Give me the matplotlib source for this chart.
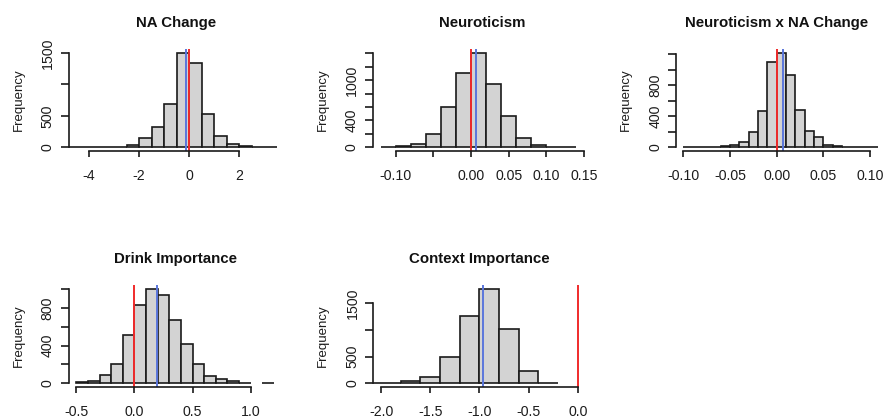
import numpy as np
import matplotlib.pyplot as plt

plt.rcParams['font.family'] = ['Liberation Sans', 'DejaVu Sans']

# ---- data ----
titles = ['NA Change', 'Neuroticism', 'Neuroticism x NA Change',
          'Drink Importance', 'Context Importance']

na_breaks = np.arange(-5.0, 3.75, 0.5)
na_counts = [1, 1, 1, 2, 12, 43, 144, 330, 691, 1500, 1346, 527, 181, 53, 15, 2, 1]
na_est = -0.13

neu_breaks = np.arange(-0.12, 0.145, 0.02)
neu_counts = [2, 20, 55, 204, 606, 1103, 1407, 939, 472, 139, 30, 3, 1]
neu_est = 0.0066

int_breaks = np.arange(-0.10, 0.115, 0.01)
int_counts = [1, 1, 1, 2, 17, 35, 64, 193, 467, 1103, 1215, 927, 485, 215, 129,
              30, 12, 10, 2, 1, 1]
int_est = 0.0064

drink_breaks = np.arange(-0.5, 1.25, 0.1)
drink_counts = [10, 28, 92, 203, 512, 836, 1003, 932, 672, 413, 203, 82, 46, 21, 7, 0, 6]
drink_est = 0.19

ctx_breaks = np.arange(-2.2, -0.15, 0.2)
ctx_counts = [8, 12, 50, 125, 488, 1268, 1772, 1013, 236, 12]
ctx_est = -0.96

# x ranges (before R's 4% extension), ticks and labels
xlims = [(-4.5, 3.5), (-0.12, 0.15), (-0.1, 0.1), (-0.5, 1.2), (-2.0, 0.0)]
xticks = [[-4, -2, 0, 2],
          [-0.10, -0.05, 0.0, 0.05, 0.10, 0.15],
          [-0.10, -0.05, 0.0, 0.05, 0.10],
          [-0.5, 0.0, 0.5, 1.0],
          [-2.0, -1.5, -1.0, -0.5, 0.0]]
xlabels = [['-4', '-2', '0', '2'],
           ['-0.10', '', '0.00', '0.05', '0.10', '0.15'],
           ['-0.10', '-0.05', '0.00', '0.05', '0.10'],
           ['-0.5', '0.0', '0.5', '1.0'],
           ['-2.0', '-1.5', '-1.0', '-0.5', '0.0']]
yticks = [[0, 500, 1000, 1500],
          [0, 200, 400, 600, 800, 1000, 1200, 1400],
          [0, 200, 400, 600, 800, 1000, 1200],
          [0, 200, 400, 600, 800, 1000],
          [0, 500, 1000, 1500]]
ylabels = [['0', '500', '', '1500'],
           ['0', '', '400', '', '', '1000', '', ''],
           ['0', '', '400', '', '800', '', ''],
           ['0', '', '400', '', '800', ''],
           ['0', '500', '', '1500']]

# plot regions in pixels: left, top, right, bottom
W, H = 885, 418
rects = [(68.5, 49.1, 284.5, 151.1),
         (372.5, 49.1, 592.1, 151.1),
         (675.9, 49.1, 877.5, 151.1),
         (68.6, 285.0, 281.6, 387.1),
         (373.2, 285.0, 585.6, 387.1)]

RED = '#f02b2b'
BLUE = '#5a76dc'
INK = '#1a1a1a'

fig = plt.figure(figsize=(W / 100, H / 100), dpi=100)

panels = [(na_breaks, na_counts, na_est),
          (neu_breaks, neu_counts, neu_est),
          (int_breaks, int_counts, int_est),
          (drink_breaks, drink_counts, drink_est),
          (ctx_breaks, ctx_counts, ctx_est)]

for i, (breaks, counts, est) in enumerate(panels):
    l, t, r, b = rects[i]
    ax = fig.add_axes([l / W, 1 - b / H, (r - l) / W, (b - t) / H])
    counts = np.asarray(counts)
    keep = counts > 0
    ax.bar(breaks[:-1][keep], counts[keep], width=np.diff(breaks)[keep],
           align='edge', color='#d3d3d3', edgecolor=INK, linewidth=1.2)
    ax.axvline(est, color=BLUE, lw=1.4)
    ax.axvline(0, color=RED, lw=1.4)

    lo, hi = xlims[i]
    ext = 0.04 * (hi - lo)
    ax.set_xlim(lo - ext, hi + ext)
    top = counts.max()
    ax.set_ylim(-0.04 * top, 1.04 * top)

    for s in ['top', 'right']:
        ax.spines[s].set_visible(False)
    ax.spines['left'].set_bounds(0, yticks[i][-1])
    ax.spines['bottom'].set_bounds(xticks[i][0], xticks[i][-1])
    for s in ['left', 'bottom']:
        ax.spines[s].set_linewidth(1.2)
        ax.spines[s].set_color(INK)

    ax.set_xticks(xticks[i])
    ax.set_xticklabels(xlabels[i])
    ax.set_yticks(yticks[i])
    ax.set_yticklabels(ylabels[i], rotation=90, va='center')
    ax.tick_params(axis='x', length=4.3, width=1.2, pad=8.3, labelsize=10.2,
                   color=INK, labelcolor='#1c1c1c')
    ax.tick_params(axis='y', length=5.5, width=1.2, pad=4.4, labelsize=10.2,
                   color=INK, labelcolor='#1c1c1c')

    hpx = b - t
    wpx = r - l
    ax.text(0.5, 1 + 21.8 / hpx, titles[i], transform=ax.transAxes,
            ha='center', va='baseline', fontsize=10.8, fontweight='bold',
            color='#111111')
    ax.text(-50 / wpx, 0.5, 'Frequency', transform=ax.transAxes,
            rotation=90, ha='center', va='center', fontsize=9.5, color='#1c1c1c')

fig.savefig('out.png', dpi=100)
